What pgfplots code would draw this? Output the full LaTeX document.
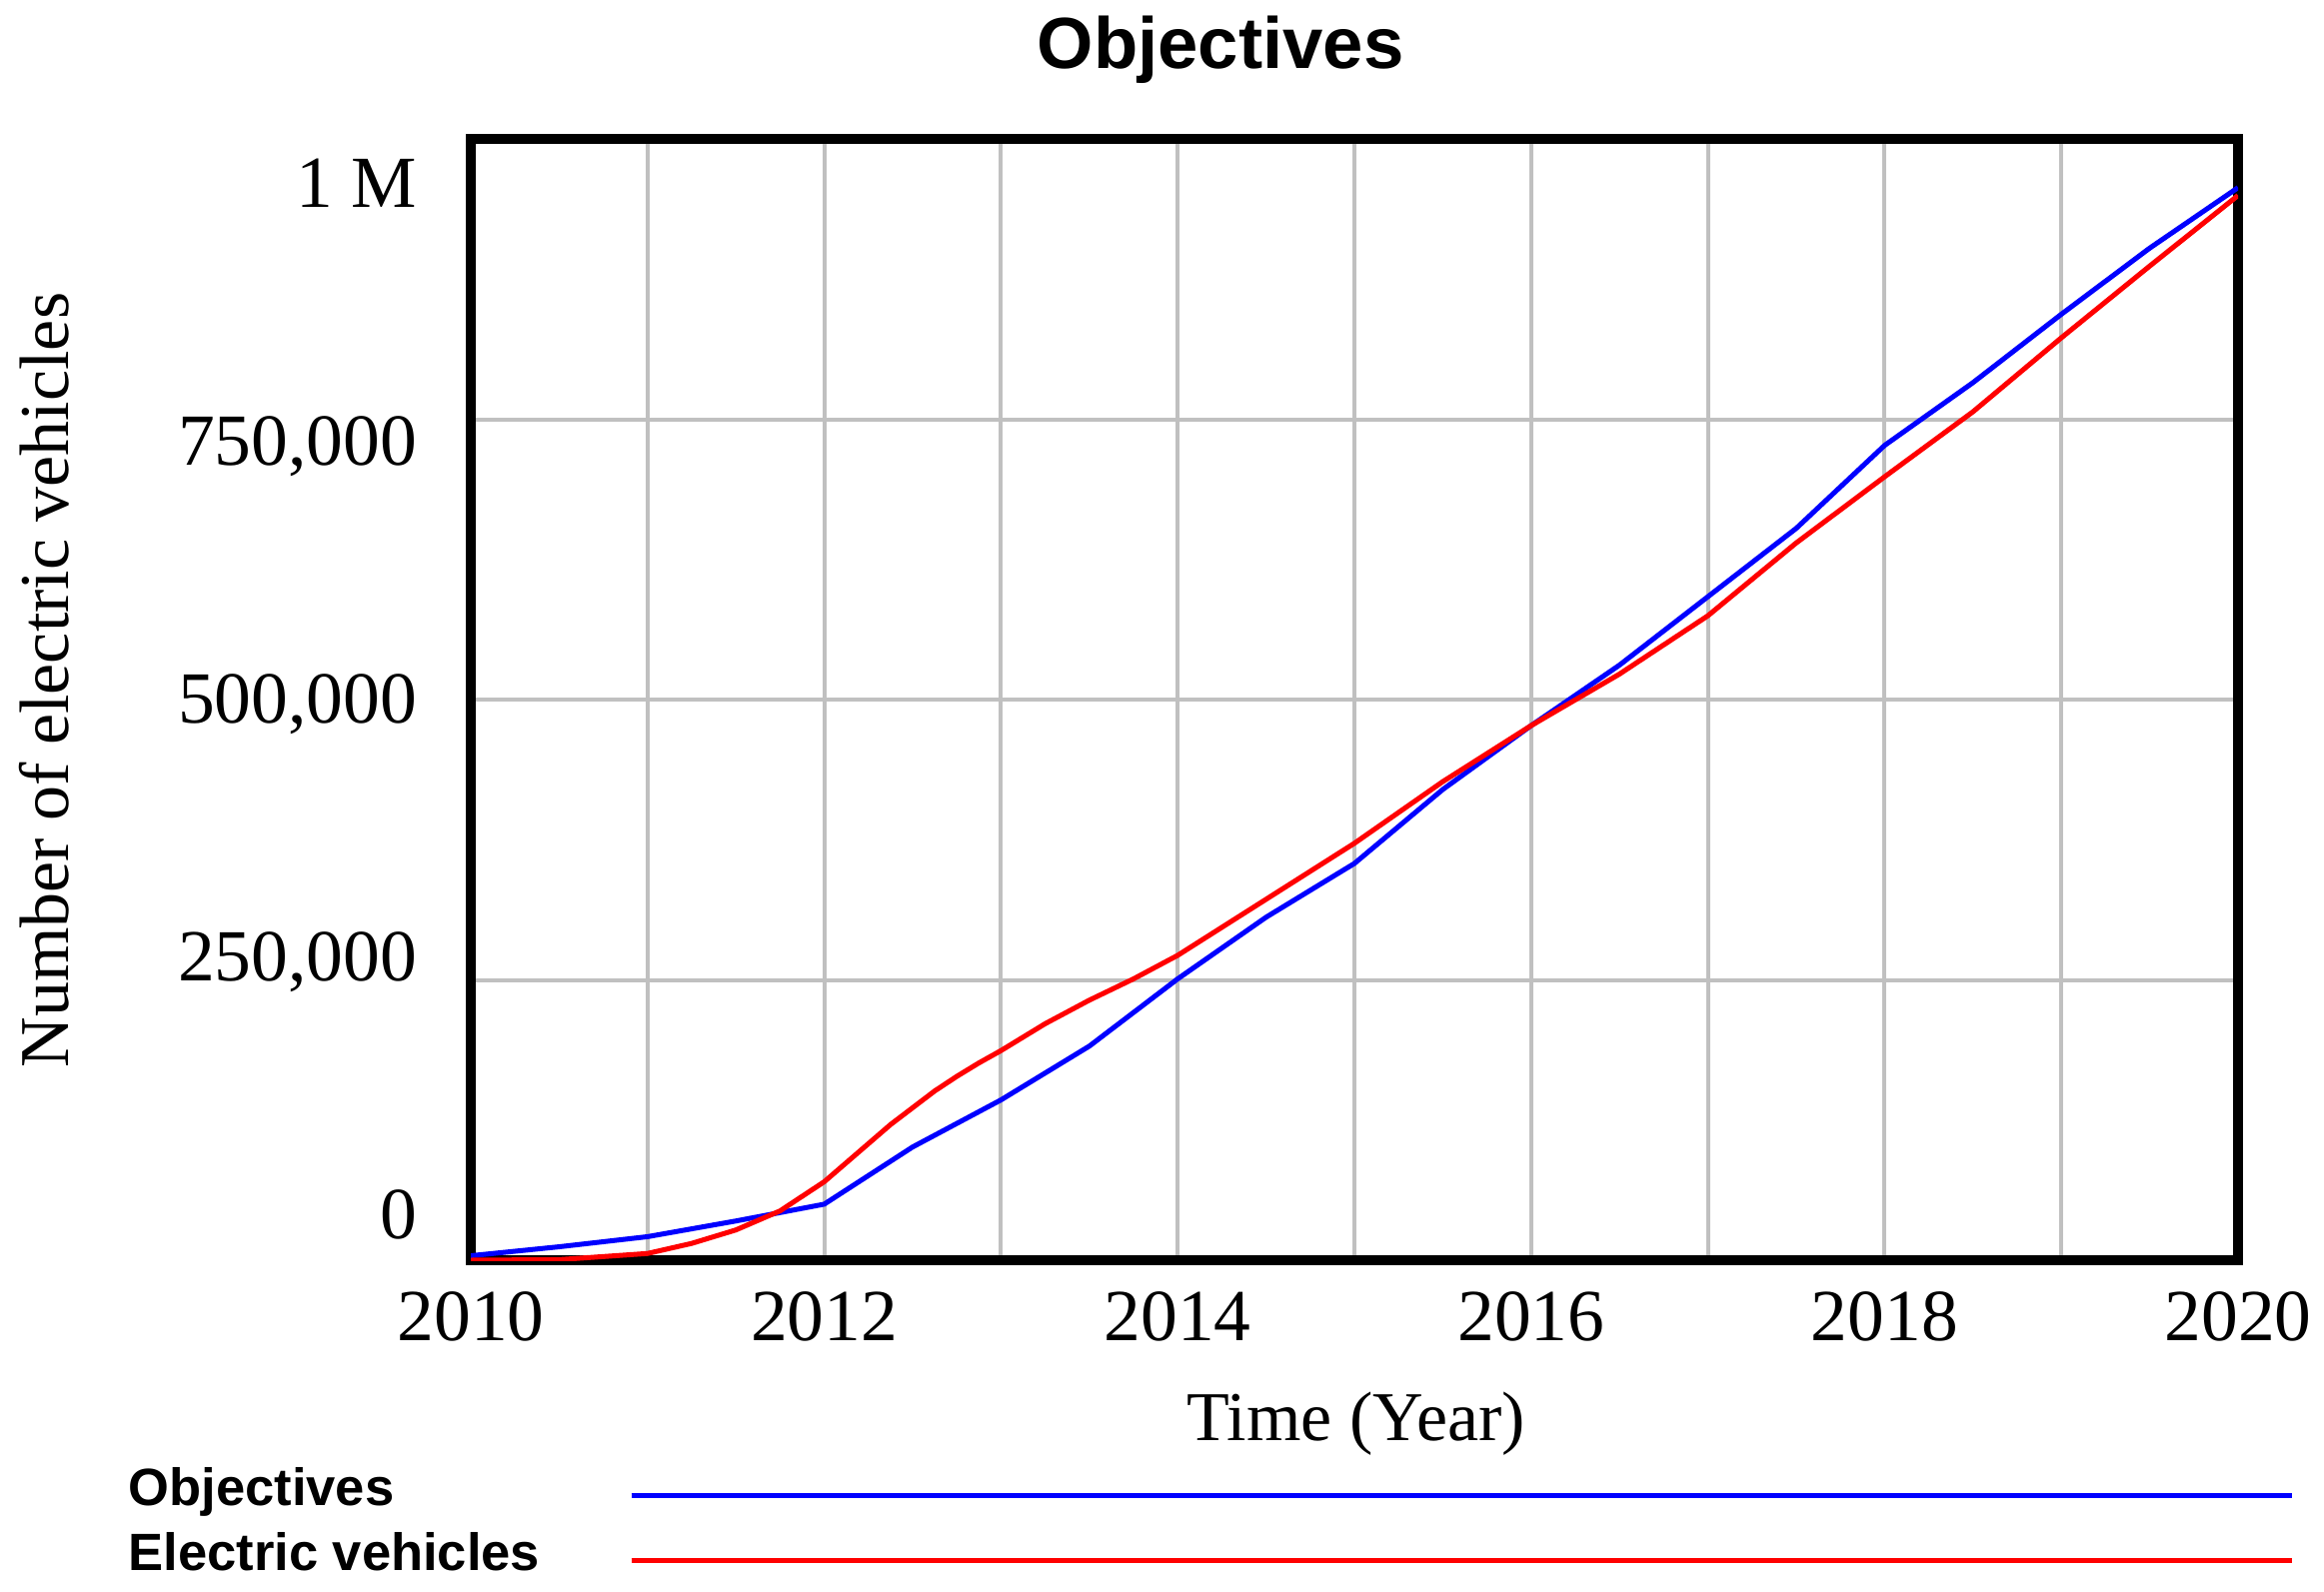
\documentclass[border=0pt]{standalone}
\usepackage{fontspec}
\setmainfont{Liberation Serif}
\newfontfamily\arialf{Liberation Sans}
\usepackage{pgfplots}
\pgfplotsset{compat=1.18}
\definecolor{gridgray}{RGB}{192,192,192}
\definecolor{vblue}{RGB}{0,0,255}
\definecolor{vred}{RGB}{255,0,0}

\begin{document}
\begin{tikzpicture}
\path (0,0) rectangle (465pt,318.4pt);
\begin{axis}[
  at={(94.2pt,66.2pt)}, anchor=south west,
  scale only axis, width=353.6pt, height=224.3pt,
  xmin=2010, xmax=2020, ymin=0, ymax=1000000,
  scaled x ticks=false, scaled y ticks=false,
  axis line style={line width=2pt},
  major tick length=0pt, minor tick length=0pt,
  xtick={2010,2011,2012,2013,2014,2015,2016,2017,2018,2019,2020},
  xticklabels={2010,,2012,,2014,,2016,,2018,,2020},
  xmajorgrids=true,
  ytick={41000,271200,501400,731500,961700},
  yticklabels={0,{250,000},{500,000},{750,000},1 M},
  minor ytick={250000,500000,750000},
  ymajorgrids=false, yminorgrids=true,
  grid style={draw=gridgray, line width=0.8pt},
  minor grid style={draw=gridgray, line width=0.8pt},
  xticklabel style={font=\fontsize{14.7}{17}\selectfont, anchor=north, inner sep=0pt, text height=9.9pt, text depth=0pt, yshift=-6pt},
  yticklabel style={font=\fontsize{14.7}{17}\selectfont, anchor=east, inner sep=0pt, text height=9.9pt, text depth=0pt, xshift=-10.6pt},
  xlabel={Time (Year)},
  ylabel={Number of electric vehicles},
  x label style={font=\fontsize{14}{17}\selectfont, at={(axis description cs:0.501,0)}, anchor=base, inner sep=0pt, yshift=-36.1pt},
  y label style={font=\fontsize{14}{17}\selectfont, at={(axis description cs:-0.2279,0.5176)}, anchor=base, rotate=0, inner sep=0pt},
  title={Objectives},
  every axis title shift=0pt,
  title style={font=\arialf\bfseries\fontsize{14.5}{17}\selectfont, at={(axis description cs:0.4242,1)}, anchor=base, inner sep=0pt, yshift=14.2pt},
  legend plot pos=right,
  legend cell align=left,
  legend image code/.code={\draw[#1] (0pt,-0.5pt) -- (332.2pt,-0.5pt);},
  legend style={at={(axis description cs:-0.1936,-0.1857)}, anchor=north west,
    draw=none, fill=none, inner sep=0pt, outer sep=0pt,
    font=\arialf\bfseries\fontsize{10.5}{12}\selectfont,
    nodes={inner sep=0pt, text height=7.5pt, text depth=2.5pt},
    row sep=3pt, column sep=17.8pt},
]
\addplot[color=vblue, line width=1pt] coordinates {
(2010,4000) (2010.5,12000) (2011,21000) (2011.5,35000) (2012,50000)
(2012.5,101000) (2013,143000) (2013.5,191000) (2014,251000) (2014.5,306000)
(2015,354000) (2015.5,420000) (2016,477000) (2016.5,531000) (2017,592000)
(2017.5,653000) (2018,727000) (2018.5,783000) (2019,844000) (2019.5,903000)
(2020,957000)
};
\addlegendentry{Objectives}
\addplot[color=vred, line width=1pt] coordinates {
(2010,0) (2010.5,500) (2011,6000) (2011.25,15000) (2011.5,27000) (2011.75,44000)
(2012,70000) (2012.125,87000) (2012.25,104000) (2012.375,121000) (2012.5,136000)
(2012.625,151000) (2012.75,164000) (2012.875,176000) (2013,187000)
(2013.25,211000) (2013.5,232000) (2013.75,251000) (2014,272000) (2014.5,322000)
(2015,372000) (2015.5,427000) (2016,477000) (2016.5,523000) (2017,575000)
(2017.5,640000) (2018,699000) (2018.5,757000) (2019,823000) (2019.5,887000)
(2020,950000)
};
\addlegendentry{Electric vehicles}
\end{axis}
\end{tikzpicture}
\end{document}
